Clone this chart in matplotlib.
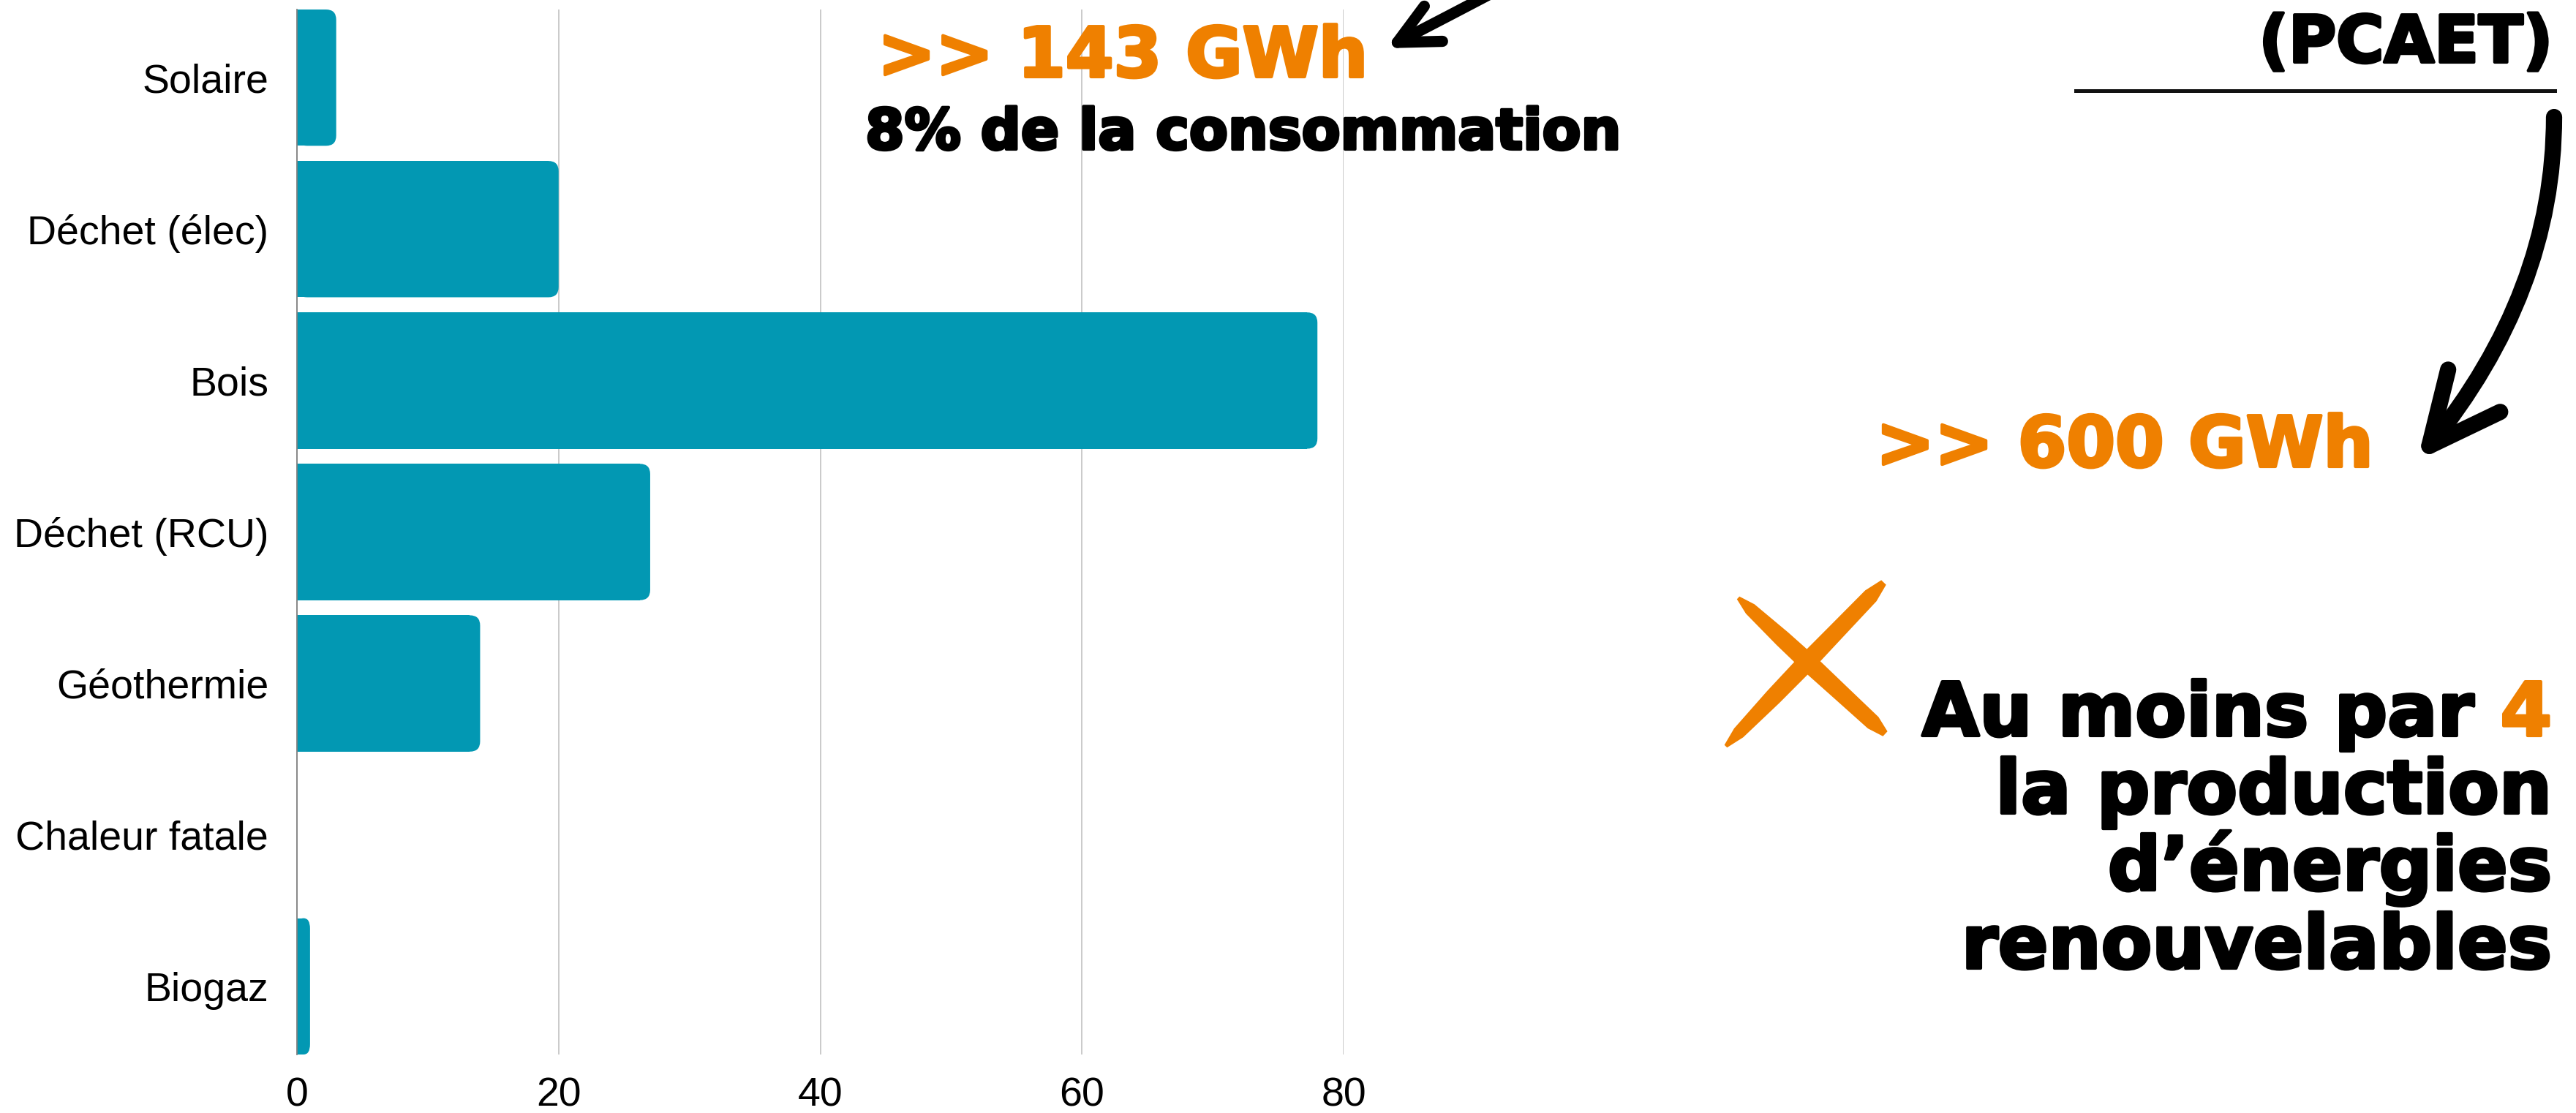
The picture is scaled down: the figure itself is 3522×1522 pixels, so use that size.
import numpy as np
import matplotlib
matplotlib.use("Agg")
import matplotlib.pyplot as plt
import matplotlib.patheffects as pe
from matplotlib.patches import FancyBboxPatch, FancyArrowPatch, Polygon
from matplotlib.path import Path

plt.rcParams['font.family'] = ['Liberation Sans', 'DejaVu Sans']

# données : production EnR (GWh)
categories = ['Solaire', 'Déchet (élec)', 'Bois', 'Déchet (RCU)',
              'Géothermie', 'Chaleur fatale', 'Biogaz']
values = [3, 20, 78, 27, 14, 0, 1]
xticks = [0, 20, 40, 60, 80]

teal = '#0298b3'
orange = '#ef8000'
W, H = 3523, 1522

fig = plt.figure(figsize=(W / 100, H / 100), dpi=100)

def fx(px):
    return px / W

def fy(py):
    return 1 - py / H

# axes in pixels: x 406..1837, y 13..1442
ax_l, ax_r, ax_t, ax_b = 406, 1837, 13, 1442
ax = fig.add_axes([fx(ax_l), fy(ax_b), (ax_r - ax_l) / W, (ax_b - ax_t) / H])

n = len(categories)
ypos = np.arange(n)
bh = 0.9
ax.set_xlim(0, 80)
ax.set_ylim(n - 1 + bh / 2, -bh / 2)

# rounded right end of the bars
px_x = (ax_r - ax_l) / 80.0
px_y = (ax_b - ax_t) / (n - 1 + bh)
r_px = 14
rx = r_px / px_x
ry = r_px / px_y
for y, v in zip(ypos, values):
    if v <= 0:
        continue
    rxe = min(rx, v / 2.0)
    ax.barh(y, v - rxe, height=bh, color=teal, zorder=3, linewidth=0)
    box = FancyBboxPatch((0, y - bh / 2), v, bh,
                         boxstyle="round,pad=0,rounding_size=%f" % rxe,
                         mutation_aspect=ry / rxe, fc=teal, ec='none', zorder=3)
    ax.add_patch(box)

ax.set_yticks(ypos)
ax.set_yticklabels(categories)
ax.set_xticks(xticks)
ax.tick_params(axis='both', length=0, labelsize=40, colors='black')
ax.tick_params(axis='y', pad=28)
ax.tick_params(axis='x', pad=22)
ax.xaxis.grid(True, color='#c6c6c6', linewidth=1.3)
ax.set_axisbelow(True)
for s in ['top', 'right', 'bottom']:
    ax.spines[s].set_visible(False)
ax.spines['left'].set_color('#808080')
ax.spines['left'].set_linewidth(1.3)
ax.spines['left'].set_zorder(4)

def heavy(col):
    return [pe.withStroke(linewidth=3, foreground=col)]

bold = dict(family='DejaVu Sans', weight='bold')

# annotations
fig.text(fx(1200), fy(105), '>> 143 GWh', color=orange, fontsize=68,
         ha='left', va='baseline', path_effects=heavy(orange), **bold)
fig.text(fx(1183), fy(204), '8% de la consommation', color='black',
         fontsize=55.5, ha='left', va='baseline', path_effects=heavy('black'), **bold)

fig.text(fx(3490), fy(85), '(PCAET)', color='black', fontsize=64,
         ha='right', va='baseline', path_effects=heavy('black'), **bold)
fig.add_artist(plt.Line2D([fx(2838), fx(3493)], [fy(124), fy(124)],
                          color='#111111', lw=3.6, transform=fig.transFigure))

fig.text(fx(3245), fy(638), '>> 600 GWh', color=orange, fontsize=69,
         ha='right', va='baseline', path_effects=heavy(orange), **bold)

# small arrow pointing at 143 GWh
p1 = Path([(fx(2060), fy(-20)), (fx(1980), fy(22)), (fx(1895), fy(66))],
          [Path.MOVETO, Path.CURVE3, Path.CURVE3])
fig.add_artist(FancyArrowPatch(path=p1, arrowstyle='->,head_length=40,head_width=19.5',
                               lw=11, color='black', transform=fig.transFigure,
                               capstyle='round', joinstyle='round'))

# big arrow from PCAET to 600 GWh
p2 = Path([(fx(3492), fy(160)), (fx(3492), fy(400)), (fx(3305), fy(630))],
          [Path.MOVETO, Path.CURVE3, Path.CURVE3])
fig.add_artist(FancyArrowPatch(path=p2, arrowstyle='->,head_length=70,head_width=33',
                               lw=16, color='black', transform=fig.transFigure,
                               capstyle='round', joinstyle='round'))

# orange cross (brush strokes, thinner at the ends)
strokes = [((2360, 1020), (2575, 797)), ((2377, 818), (2577, 1003))]
ts = np.array([0, 0.08, 0.3, 0.5, 0.7, 0.92, 1.0])
half = np.array([2, 8, 11, 12, 11, 10, 4])
for (x0, y0), (x1, y1) in strokes:
    d = np.array([x1 - x0, y1 - y0], float)
    d /= np.hypot(*d)
    nrm = np.array([-d[1], d[0]])
    pts = np.array([[x0 + t * (x1 - x0), y0 + t * (y1 - y0)] for t in ts])
    side1 = pts + nrm * half[:, None]
    side2 = (pts - nrm * half[:, None])[::-1]
    poly = np.vstack([side1, side2])
    fig.add_artist(Polygon(np.column_stack([poly[:, 0] / W, 1 - poly[:, 1] / H]),
                           closed=True, fc=orange, ec=orange, lw=1,
                           transform=fig.transFigure))

# text block on the right
xr = 3489
t4 = fig.text(fx(xr), fy(1006), '4', color=orange, fontsize=73,
              ha='right', va='baseline', path_effects=heavy(orange), **bold)
fig.canvas.draw()
bb = t4.get_window_extent(renderer=fig.canvas.get_renderer())
fig.text(bb.x0 / W - 36 / W, fy(1006), 'Au moins par', color='black', fontsize=73,
         ha='right', va='baseline', path_effects=heavy('black'), **bold)
lines = ['la production', 'd’énergies', 'renouvelables']
baselines = [1112, 1217, 1324]
for txt, b in zip(lines, baselines):
    fig.text(fx(xr), fy(b), txt, color='black', fontsize=73,
             ha='right', va='baseline', path_effects=heavy('black'), **bold)

fig.savefig('out.png', dpi=100, facecolor='white')
